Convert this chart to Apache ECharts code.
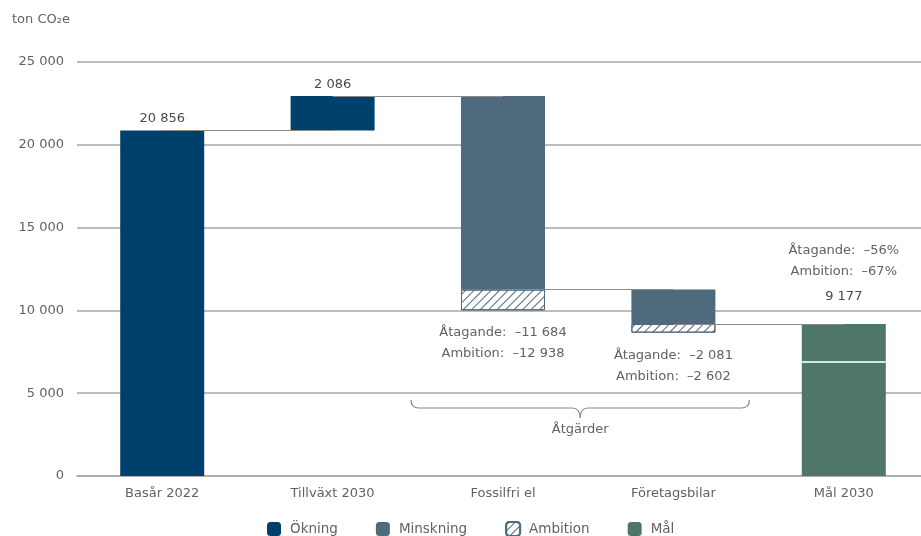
<!DOCTYPE html>
<html><head><meta charset="utf-8">
<script src="https://cdn.jsdelivr.net/npm/echarts@6/dist/echarts.min.js"></script>
<style>html,body{margin:0;padding:0;background:#fff;overflow:hidden}#c{width:930px;height:536px}</style>
</head><body><div id="c"></div>
<script>
const categories = ['Basår 2022', 'Tillväxt 2030', 'Fossilfri el', 'Företagsbilar', 'Mål 2030'];
const baseValues = [0, 20856, 10004, 8656, 0];           // invisible offset
const increaseValues = [20856, 2086, '-', '-', '-'];      // Ökning
const ambitionValues = ['-', '-', 1254, 521, '-'];         // Ambition (hatched)
const decreaseValues = ['-', '-', 11684, 2081, '-'];       // Minskning
const goalValues = ['-', '-', '-', '-', 9177];             // Mål
const goalAmbitionLevel = 6882;                            // white line in Mål
const increaseLabels = ['20 856', '2 086'];
const measureLabels = ['Åtagande:  –11 684\nAmbition:  –12 938', 'Åtagande:  –2 081\nAmbition:  –2 602'];
const goalLabel = ['Åtagande:  –56%', 'Ambition:  –67%', '9 177'];
const connectors = [[0, 1, 20856], [1, 2, 22942], [2, 3, 11258], [3, 4, 9177]];

const C_INC = '#00416b', C_DEC = '#4f697d', C_GOAL = '#4e7767';
const FONT = 'DejaVu Sans';
const FS = 13;
const TXT = '#626262';
const fmt = v => String(v).replace(/\B(?=(\d{3})+(?!\d))/g, ' ');

const chart = echarts.init(document.getElementById('c'));
const hatch = { symbol: 'rect', symbolSize: 1, dashArrayX: [1, 0], dashArrayY: [1, 4.5], rotation: -Math.PI / 4, color: C_DEC };

chart.setOption({
  animation: false,
  textStyle: { fontFamily: FONT },
  title: { text: 'ton CO₂e', left: 7, top: 8, textStyle: { fontFamily: FONT, fontSize: FS, fontWeight: 'normal', color: TXT } },
  grid: { left: 77, right: 1, top: 62, bottom: 60 },
  legend: {
    bottom: -6, left: 262, itemWidth: 14, itemHeight: 14, itemGap: 38,
    data: ['Ökning', 'Minskning', 'Ambition', 'Mål'],
    textStyle: { fontFamily: FONT, fontSize: FS + 0.5, color: TXT, padding: [0, 0, 0, 4] }
  },
  xAxis: {
    type: 'category', data: categories,
    axisLine: { lineStyle: { color: '#a6a6a6', width: 1.5 } },
    axisTick: { show: false },
    axisLabel: { fontFamily: FONT, fontSize: FS, color: TXT, margin: 11 }
  },
  yAxis: {
    type: 'value', min: 0, max: 25000, interval: 5000,
    axisLine: { show: false }, axisTick: { show: false },
    splitLine: { lineStyle: { color: '#a6a6a6', width: 1.5 } },
    axisLabel: { fontFamily: FONT, fontSize: FS, color: TXT, margin: 13, formatter: v => fmt(v) }
  },
  series: [
    {
      name: 'base', type: 'bar', stack: 'w', barWidth: 84, z: 1,
      itemStyle: { color: 'transparent' }, data: baseValues,
      markLine: {
        silent: true, symbol: 'none', label: { show: false },
        lineStyle: { color: '#8a8a8a', width: 1, type: 'solid' },
        data: connectors.map(c => [{ coord: [c[0], c[2]] }, { coord: [c[1], c[2]] }])
      }
    },
    {
      name: 'Ambition', type: 'bar', stack: 'w', z: 3,
      itemStyle: { color: '#fff', borderColor: C_DEC, borderWidth: 1, decal: hatch },
      data: ambitionValues.map((v, i) => v === '-' ? v : {
        value: v,
        label: { show: true, position: 'bottom', distance: 12, formatter: measureLabels[i - 2],
          fontFamily: FONT, fontSize: FS, color: TXT, lineHeight: 21, align: 'center' }
      })
    },
    { name: 'Minskning', type: 'bar', stack: 'w', z: 3, itemStyle: { color: C_DEC }, data: decreaseValues },
    {
      name: 'Ökning', type: 'bar', stack: 'w', z: 3, itemStyle: { color: C_INC },
      data: increaseValues,
      label: { show: true, position: 'top', distance: 5, fontFamily: FONT, fontSize: FS, color: '#4a4a4a',
        formatter: p => increaseLabels[p.dataIndex] || '' }
    },
    {
      name: 'Mål', type: 'bar', stack: 'w', z: 3, itemStyle: { color: C_GOAL },
      data: goalValues,
      label: { show: true, position: 'top', distance: 13,
        formatter: '{a|' + goalLabel[0] + '}\n{a|' + goalLabel[1] + '}\n{b|' + goalLabel[2] + '}',
        rich: { a: { fontFamily: FONT, fontSize: FS, color: TXT, lineHeight: 21 },
                b: { fontFamily: FONT, fontSize: FS, color: '#4a4a4a', lineHeight: 29 } } }
    },
    {
      name: 'goalLine', type: 'scatter', z: 5, symbol: 'rect', symbolSize: [84, 2],
      itemStyle: { color: '#fff' }, silent: true,
      data: [[4, goalAmbitionLevel]]
    }
  ]
});

// Brace under "Åtgärder" group
const x1 = chart.convertToPixel({ xAxisIndex: 0 }, 2) - 92;
const x2 = chart.convertToPixel({ xAxisIndex: 0 }, 3) + 76;
const xm = (x1 + x2) / 2;
const yt = 400, yl = 408, yp = 418;
const r = 8;
const st = { fill: null, stroke: '#888', lineWidth: 1.2 };
chart.setOption({
  graphic: [
    { type: 'bezierCurve', shape: { x1: x1, y1: yt, x2: x1 + r, y2: yl, cpx1: x1, cpy1: yl }, style: st },
    { type: 'line', shape: { x1: x1 + r, y1: yl, x2: xm - r, y2: yl }, style: st },
    { type: 'bezierCurve', shape: { x1: xm - r, y1: yl, x2: xm, y2: yp, cpx1: xm, cpy1: yl }, style: st },
    { type: 'bezierCurve', shape: { x1: xm, y1: yp, x2: xm + r, y2: yl, cpx1: xm, cpy1: yl }, style: st },
    { type: 'line', shape: { x1: xm + r, y1: yl, x2: x2 - r, y2: yl }, style: st },
    { type: 'bezierCurve', shape: { x1: x2 - r, y1: yl, x2: x2, y2: yt, cpx1: x2, cpy1: yl }, style: st },
    { type: 'text', x: xm, y: 430, style: { text: 'Åtgärder', font: FS + 'px "' + FONT + '"', fill: TXT, align: 'center', verticalAlign: 'middle' } }
  ]
});
</script></body></html>
